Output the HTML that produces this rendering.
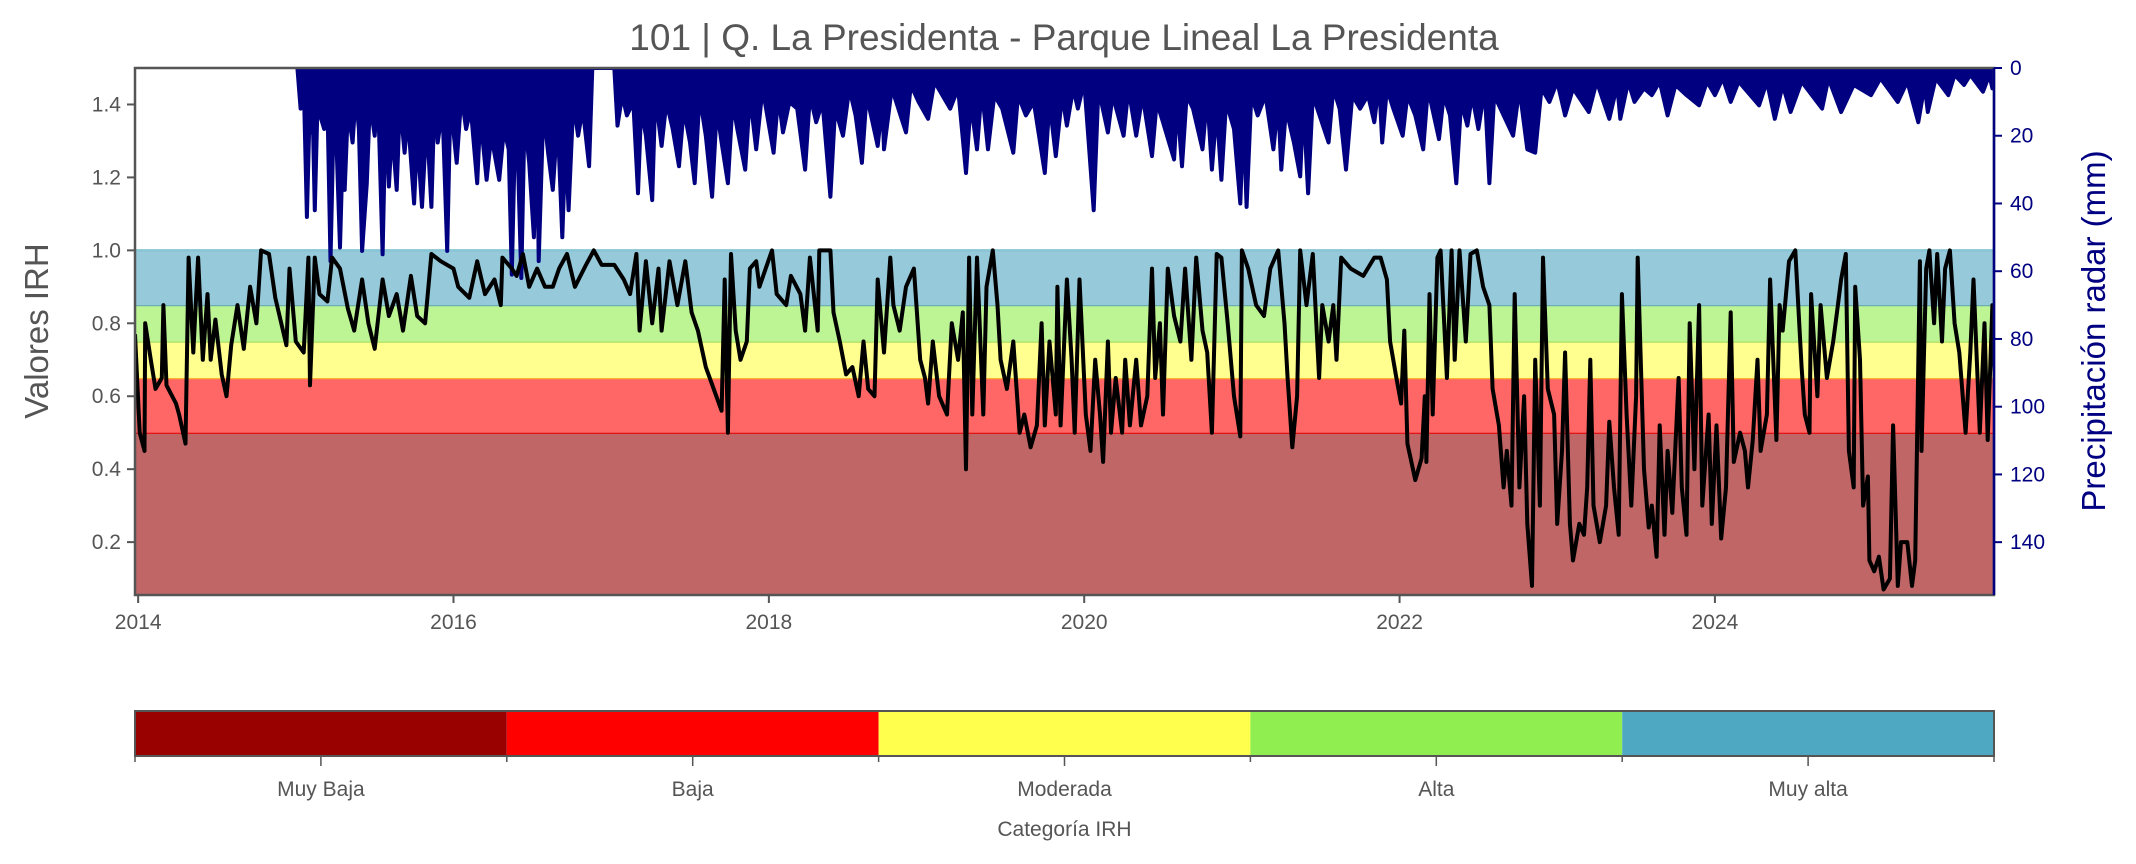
<!DOCTYPE html>
<html><head><meta charset="utf-8"><style>
html,body{margin:0;padding:0;background:#fff;}
svg{display:block;font-family:"Liberation Sans",sans-serif;}
</style></head><body>
<svg id="chart" width="2136" height="864" viewBox="0 0 2136 864">
<text x="1064" y="50" text-anchor="middle" font-size="37" fill="#555">101 | Q. La Presidenta -  Parque Lineal La Presidenta</text>
<g id="bands"></g>
<g id="precip"></g>
<g id="irh"></g>
<g id="axes"></g>
<g id="cbar"></g>
</svg>
<script>
const irhT=[2013.98,2014.01,2014.04,2014.045,2014.08,2014.11,2014.15,2014.16,2014.18,2014.24,2014.26,2014.30,2014.32,2014.35,2014.38,2014.41,2014.44,2014.46,2014.49,2014.53,2014.56,2014.59,2014.63,2014.67,2014.71,2014.75,2014.78,2014.83,2014.87,2014.94,2014.96,2015.00,2015.05,2015.08,2015.09,2015.12,2015.15,2015.20,2015.23,2015.28,2015.33,2015.37,2015.42,2015.46,2015.50,2015.55,2015.59,2015.64,2015.68,2015.73,2015.77,2015.82,2015.86,2015.92,2016.00,2016.03,2016.10,2016.15,2016.20,2016.26,2016.30,2016.31,2016.37,2016.40,2016.44,2016.48,2016.53,2016.58,2016.63,2016.67,2016.72,2016.77,2016.84,2016.89,2016.94,2017.02,2017.08,2017.12,2017.16,2017.18,2017.22,2017.26,2017.30,2017.32,2017.37,2017.42,2017.47,2017.51,2017.55,2017.60,2017.65,2017.70,2017.72,2017.74,2017.76,2017.79,2017.82,2017.86,2017.88,2017.92,
2017.94,2018.02,2018.05,2018.11,2018.14,2018.20,2018.23,2018.26,2018.31,2018.32,2018.39,2018.41,2018.45,2018.49,2018.53,2018.57,2018.60,2018.63,2018.67,2018.69,2018.73,2018.77,2018.79,2018.83,2018.87,2018.92,2018.96,2018.99,2019.01,2019.04,2019.08,2019.13,2019.16,2019.20,2019.23,2019.25,2019.27,2019.29,2019.32,2019.36,2019.38,2019.42,2019.45,2019.47,2019.51,2019.55,2019.59,2019.62,2019.66,2019.70,2019.73,2019.75,2019.78,2019.82,2019.83,2019.85,2019.89,2019.92,2019.94,2019.97,2020.01,2020.04,2020.07,2020.10,2020.12,2020.15,2020.17,2020.20,2020.24,2020.26,2020.29,2020.33,2020.36,2020.40,2020.43,2020.45,2020.48,2020.50,2020.53,2020.57,2020.61,2020.64,2020.68,2020.71,2020.75,2020.78,2020.81,2020.84,2020.87,2020.91,2020.95,2020.99,2021.00,2021.04,2021.09,2021.14,2021.18,2021.23,2021.27,2021.29,2021.32,2021.35,2021.37,2021.41,2021.45,2021.49,2021.51,2021.55,2021.58,2021.60,2021.63,2021.69,2021.77,2021.84,
2021.88,2021.92,2021.94,2021.98,2022.01,2022.03,2022.05,2022.10,2022.14,2022.16,2022.17,2022.19,2022.21,2022.24,2022.26,2022.30,2022.33,2022.35,2022.38,2022.42,2022.45,2022.49,2022.53,2022.57,2022.59,2022.63,2022.66,2022.68,2022.71,2022.73,2022.76,2022.79,2022.81,2022.84,2022.86,2022.89,2022.91,2022.94,2022.98,2023.00,2023.03,2023.05,2023.08,2023.10,2023.14,2023.17,2023.19,2023.21,2023.23,2023.27,2023.31,2023.33,2023.36,2023.39,2023.41,2023.44,2023.47,2023.50,2023.51,2023.55,2023.58,2023.60,2023.63,2023.65,2023.68,2023.70,2023.73,2023.77,2023.79,2023.82,2023.84,2023.87,2023.90,2023.92,2023.96,2023.98,2024.01,2024.04,2024.07,2024.10,2024.12,2024.16,2024.19,2024.21,2024.24,2024.27,2024.29,2024.33,2024.35,2024.39,2024.41,2024.43,2024.47,2024.51,2024.55,2024.57,2024.60,2024.61,2024.65,2024.67,2024.71,2024.75,2024.78,2024.80,2024.83,2024.85,2024.88,2024.89,2024.92,2024.94,2024.97,2024.98,2025.01,2025.04,2025.07,2025.11,2025.13,2025.16,2025.18,2025.22,2025.25,2025.27,2025.30,2025.31,2025.34,2025.36,2025.39,2025.41,2025.44,2025.46,2025.49,2025.52,2025.55,2025.59,2025.62,2025.64,2025.68,2025.71,2025.73,2025.76,2025.78];
const irhV=[0.77,0.5,0.45,0.8,0.7,0.62,0.65,0.85,0.63,0.58,0.55,0.47,0.98,0.72,0.98,0.7,0.88,0.7,0.81,0.66,0.6,0.74,0.85,0.73,0.9,0.8,1.0,0.99,0.87,0.74,0.95,0.75,0.72,0.98,0.63,0.98,0.88,0.86,0.98,0.95,0.84,0.78,0.92,0.8,0.73,0.92,0.82,0.88,0.78,0.93,0.82,0.8,0.99,0.97,0.95,0.9,0.87,0.97,0.88,0.92,0.85,0.98,0.95,0.93,0.99,0.9,0.95,0.9,0.9,0.95,0.99,0.9,0.96,1.0,0.96,0.96,0.92,0.88,0.99,0.78,0.97,0.8,0.95,0.78,0.97,0.85,0.97,0.83,0.78,0.68,0.62,0.56,0.92,0.5,0.99,0.78,0.7,0.75,0.95,0.97,
0.9,1.0,0.88,0.85,0.93,0.88,0.78,0.98,0.78,1.0,1.0,0.83,0.75,0.66,0.68,0.6,0.75,0.62,0.6,0.92,0.72,0.98,0.85,0.78,0.9,0.95,0.7,0.65,0.58,0.75,0.6,0.55,0.8,0.7,0.83,0.4,0.98,0.55,0.98,0.55,0.9,1.0,0.85,0.7,0.62,0.75,0.5,0.55,0.46,0.52,0.8,0.52,0.75,0.55,0.9,0.52,0.92,0.7,0.5,0.92,0.55,0.45,0.7,0.55,0.42,0.75,0.5,0.65,0.5,0.7,0.52,0.7,0.52,0.6,0.95,0.65,0.8,0.55,0.95,0.82,0.75,0.95,0.7,0.98,0.78,0.72,0.5,0.99,0.98,0.8,0.6,0.49,1.0,0.95,0.85,0.82,0.95,1.0,0.8,0.65,0.46,0.6,1.0,0.85,0.99,0.65,0.85,0.75,0.85,0.7,0.98,0.95,0.93,0.98,
0.98,0.92,0.75,0.65,0.58,0.78,0.47,0.37,0.43,0.6,0.42,0.88,0.55,0.98,1.0,0.65,1.0,0.7,1.0,0.75,0.99,1.0,0.9,0.85,0.62,0.52,0.35,0.45,0.3,0.88,0.35,0.6,0.25,0.08,0.7,0.3,0.98,0.62,0.55,0.25,0.45,0.72,0.25,0.15,0.25,0.22,0.35,0.7,0.3,0.2,0.3,0.53,0.35,0.22,0.88,0.55,0.3,0.6,0.98,0.4,0.24,0.3,0.16,0.52,0.22,0.45,0.28,0.65,0.35,0.22,0.8,0.4,0.85,0.3,0.55,0.25,0.52,0.21,0.35,0.83,0.42,0.5,0.45,0.35,0.48,0.7,0.45,0.55,0.92,0.48,0.85,0.78,0.97,1.0,0.68,0.55,0.5,0.88,0.6,0.85,0.65,0.75,0.85,0.92,0.99,0.45,0.35,0.9,0.7,0.3,0.38,0.15,0.12,0.16,0.07,0.1,0.52,0.08,0.2,0.2,0.08,0.15,0.97,0.45,0.95,1.0,0.8,0.99,0.75,0.95,1.0,0.8,0.72,0.5,0.72,0.92,0.5,0.8,0.48,0.85,0.57];
const precipT=[2015.01,2015.03,2015.05,2015.07,2015.09,2015.11,2015.12,2015.14,2015.16,2015.18,2015.2,2015.22,2015.24,2015.26,2015.28,2015.3,2015.31,2015.33,2015.36,2015.38,2015.4,2015.42,2015.45,2015.47,2015.5,2015.52,2015.55,2015.57,2015.59,2015.61,2015.64,2015.66,2015.69,2015.71,2015.75,2015.77,2015.8,2015.83,2015.86,2015.88,2015.9,2015.93,2015.96,2015.98,2016.02,2016.05,2016.08,2016.11,2016.15,2016.17,2016.21,2016.24,2016.29,2016.32,2016.35,2016.37,2016.39,2016.41,2016.43,2016.45,2016.48,2016.51,2016.53,2016.54,2016.57,2016.6,2016.63,2016.66,2016.69,2016.71,2016.73,2016.76,2016.79,2016.82,2016.86,2016.88,2017.02,2017.04,2017.07,2017.1,2017.14,2017.17,2017.19,2017.22,2017.26,2017.28,2017.32,2017.35,2017.39,2017.43,2017.46,2017.5,2017.53,2017.56,2017.6,2017.64,2017.67,2017.7,2017.74,2017.77,2017.8,2017.85,2017.88,2017.92,2017.96,
2018.03,2018.06,2018.09,2018.13,2018.18,2018.23,2018.26,2018.3,2018.34,2018.39,2018.42,2018.47,2018.51,2018.55,2018.59,2018.62,2018.69,2018.72,2018.73,2018.78,2018.87,2018.9,2018.95,2019.01,2019.05,2019.1,2019.15,2019.2,2019.25,2019.28,2019.32,2019.35,2019.39,2019.43,2019.48,2019.55,2019.58,2019.63,2019.68,2019.75,2019.78,2019.82,2019.86,2019.89,2019.93,2019.96,2020.0,2020.06,2020.09,2020.15,2020.18,2020.25,2020.28,2020.33,2020.37,2020.43,2020.46,2020.5,2020.57,2020.59,2020.62,2020.65,2020.69,2020.75,2020.78,2020.81,2020.84,2020.87,2020.9,2020.95,2020.99,2021.01,2021.03,2021.06,2021.1,2021.15,2021.2,2021.23,2021.25,2021.28,2021.33,2021.37,2021.39,2021.42,2021.45,2021.5,2021.55,2021.58,2021.62,2021.66,2021.7,2021.75,2021.8,2021.84,2021.87,
2021.89,2021.92,2021.96,2022.02,2022.05,2022.1,2022.15,2022.18,2022.25,2022.28,2022.32,2022.36,2022.39,2022.43,2022.46,2022.5,2022.54,2022.57,2022.6,2022.64,2022.72,2022.76,2022.81,2022.86,2022.9,2022.95,2023.0,2023.05,2023.1,2023.2,2023.25,2023.33,2023.38,2023.4,2023.45,2023.49,2023.55,2023.6,2023.65,2023.7,2023.75,2023.82,2023.9,2023.95,2024.0,2024.05,2024.1,2024.15,2024.28,2024.33,2024.38,2024.43,2024.48,2024.55,2024.68,2024.72,2024.8,2024.88,2024.99,2025.05,2025.16,2025.22,2025.29,2025.33,2025.35,2025.4,2025.48,2025.52,2025.58,2025.62,2025.7,2025.74,2025.76];
const precipV=[0,12,4,44,8,20,42,6,15,18,10,57,14,25,53,20,36,12,22,8,18,54,34,10,20,6,55,12,35,18,36,10,25,14,40,20,41,15,41,8,22,12,54,10,28,8,18,12,34,14,33,20,33,18,24,61,20,30,62,15,28,50,20,57,12,25,36,15,50,22,42,10,20,12,29,0,0,17,8,14,10,37,12,20,39,8,23,10,18,29,12,22,34,8,20,38,12,22,34,10,18,30,8,24,6,
25,8,19,10,12,30,8,16,10,38,12,20,6,14,28,8,23,10,24,6,19,5,10,15,4,8,12,6,31,10,24,6,24,8,12,25,8,14,10,31,10,26,8,17,6,12,4,42,6,19,8,20,6,20,8,26,10,16,27,10,29,8,12,24,8,30,12,33,10,18,40,14,41,8,14,8,24,10,30,12,22,32,10,37,8,15,22,6,12,30,8,12,8,16,4,
22,6,12,20,8,14,24,6,21,8,14,34,10,17,8,18,6,34,8,12,20,6,24,25,6,10,4,14,6,13,4,15,5,15,4,10,6,8,4,14,5,8,11,4,8,3,10,4,11,4,15,5,13,4,12,3,13,5,8,3,10,4,16,5,13,3,8,2,5,2,7,2,6];
const yTicks=[0.2,0.4,0.6,0.8,1.0,1.2,1.4];
const yTickLabels=["0.2","0.4","0.6","0.8","1.0","1.2","1.4"];
const xTicks=[2014,2016,2018,2020,2022,2024];
const xTickLabels=["2014","2016","2018","2020","2022","2024"];
const pTicks=[0,20,40,60,80,100,120,140];
const pTickLabels=["0","20","40","60","80","100","120","140"];
const bandEdges=[0.0,0.5,0.65,0.75,0.85,1.0];
const categories=["Muy Baja","Baja","Moderada","Alta","Muy alta"];

const NS="http://www.w3.org/2000/svg";
const L=135,R=1994,T=68,B=595;
const X0=2013.98,X1=2025.77,Y0=0.055,Y1=1.5,P0=0,P1=155.6;
const sx=t=>L+(t-X0)/(X1-X0)*(R-L);
const sy=v=>B-(v-Y0)/(Y1-Y0)*(B-T);
const sp=p=>T+(p-P0)/(P1-P0)*(B-T);
function mk(tag,attrs,parent){const e=document.createElementNS(NS,tag);for(const k in attrs)e.setAttribute(k,attrs[k]);parent.appendChild(e);return e;}

const defs=mk('defs',{},document.getElementById('chart'));
const cp=mk('clipPath',{id:'clip'},defs);mk('rect',{x:L,y:T,width:R-L,height:B-T},cp);

const bands=document.getElementById('bands');
const bandFill=['#c06666','#ff6666','#ffff8f','#bdf595','#96c9d9'];
const bandLine=['#e01515','#ffb030','#a8e060','#6aacb0','#88c4d4'];
for(let i=0;i<5;i++){
  const lo=Math.max(bandEdges[i],Y0),hi=bandEdges[i+1];
  const r=mk('rect',{x:L,y:sy(hi),width:R-L,height:sy(lo)-sy(hi),fill:bandFill[i]},bands);
  
  
  const ln=mk('line',{x1:L,x2:R,y1:sy(hi),y2:sy(hi),stroke:bandLine[i],'stroke-width':2.5},bands);
  
  
}
// precip: line through values, area to 0 baseline filled (dense daily look)
const pg=document.getElementById('precip');pg.setAttribute('clip-path','url(#clip)');
let pd='M'+sx(precipT[0]).toFixed(1)+','+sp(0).toFixed(1);
for(let i=0;i<precipT.length;i++){pd+='L'+sx(precipT[i]).toFixed(1)+','+sp(precipV[i]).toFixed(1);}
pd+='L'+sx(precipT[precipT.length-1]).toFixed(1)+','+sp(0).toFixed(1)+'Z';
const ppath=mk('path',{d:pd,fill:'#000080',stroke:'#000080','stroke-width':4,'stroke-linejoin':'round'},pg);



const ig=document.getElementById('irh');ig.setAttribute('clip-path','url(#clip)');
let d='';
for(let i=0;i<irhT.length;i++){d+=(i?'L':'M')+sx(irhT[i]).toFixed(1)+','+sy(irhV[i]).toFixed(1);}
const ipath=mk('path',{d:d,fill:'none',stroke:'#000','stroke-width':4,'stroke-linejoin':'round'},ig);



const ax=document.getElementById('axes');
const frame=mk('rect',{x:L,y:T,width:R-L,height:B-T,fill:'none',stroke:'#555','stroke-width':2.5},ax);


mk('line',{x1:R,x2:R,y1:T,y2:B,stroke:'#000080','stroke-width':2.5},ax);
yTicks.forEach((v,i)=>{
  mk('line',{x1:L-8,x2:L,y1:sy(v),y2:sy(v),stroke:'#555','stroke-width':2},ax);
  const t=mk('text',{x:L-14,y:sy(v)+7,'text-anchor':'end','font-size':21,fill:'#555'},ax);t.textContent=yTickLabels[i];
  
  
});
xTicks.forEach((v,i)=>{
  mk('line',{x1:sx(v),x2:sx(v),y1:B,y2:B+8,stroke:'#555','stroke-width':2},ax);
  const t=mk('text',{x:sx(v),y:B+34,'text-anchor':'middle','font-size':21,fill:'#555'},ax);t.textContent=xTickLabels[i];
  
  
});
pTicks.forEach((v,i)=>{
  mk('line',{x1:R,x2:R+8,y1:sp(v),y2:sp(v),stroke:'#000080','stroke-width':2},ax);
  const t=mk('text',{x:R+16,y:sp(v)+7,'text-anchor':'start','font-size':21,fill:'#000080'},ax);t.textContent=pTickLabels[i];
  
  
});
const yl=mk('text',{x:0,y:0,transform:'translate(48,331) rotate(-90)','text-anchor':'middle','font-size':33,fill:'#555'},ax);yl.textContent='Valores IRH';


const yr=mk('text',{x:0,y:0,transform:'translate(2105,331) rotate(-90)','text-anchor':'middle','font-size':33,fill:'#000080'},ax);yr.textContent='Precipitación radar (mm)';



const cb=document.getElementById('cbar');
const cbCol=['#990000','#ff0000','#ffff4d','#90ee50','#4fa8c2'];
const CT=711,CB=756,w=(R-L)/5;
categories.forEach((c,i)=>{
  const r=mk('rect',{x:L+i*w,y:CT,width:w,height:CB-CT,fill:cbCol[i]},cb);
  
  
  mk('line',{x1:L+(i+0.5)*w,x2:L+(i+0.5)*w,y1:CB,y2:CB+10,stroke:'#555','stroke-width':1.5},cb);
  const t=mk('text',{x:L+(i+0.5)*w,y:CB+40,'text-anchor':'middle','font-size':21,fill:'#555'},cb);t.textContent=c;
  
  
});
for(let i=0;i<=5;i++)mk('line',{x1:L+i*w,x2:L+i*w,y1:CB,y2:CB+6,stroke:'#555','stroke-width':1.5},cb);
mk('rect',{x:L,y:CT,width:R-L,height:CB-CT,fill:'none',stroke:'#555','stroke-width':2},cb);
const ct=mk('text',{x:(L+R)/2,y:836,'text-anchor':'middle','font-size':21,fill:'#555'},cb);ct.textContent='Categoría IRH';


</script>
</body></html>
